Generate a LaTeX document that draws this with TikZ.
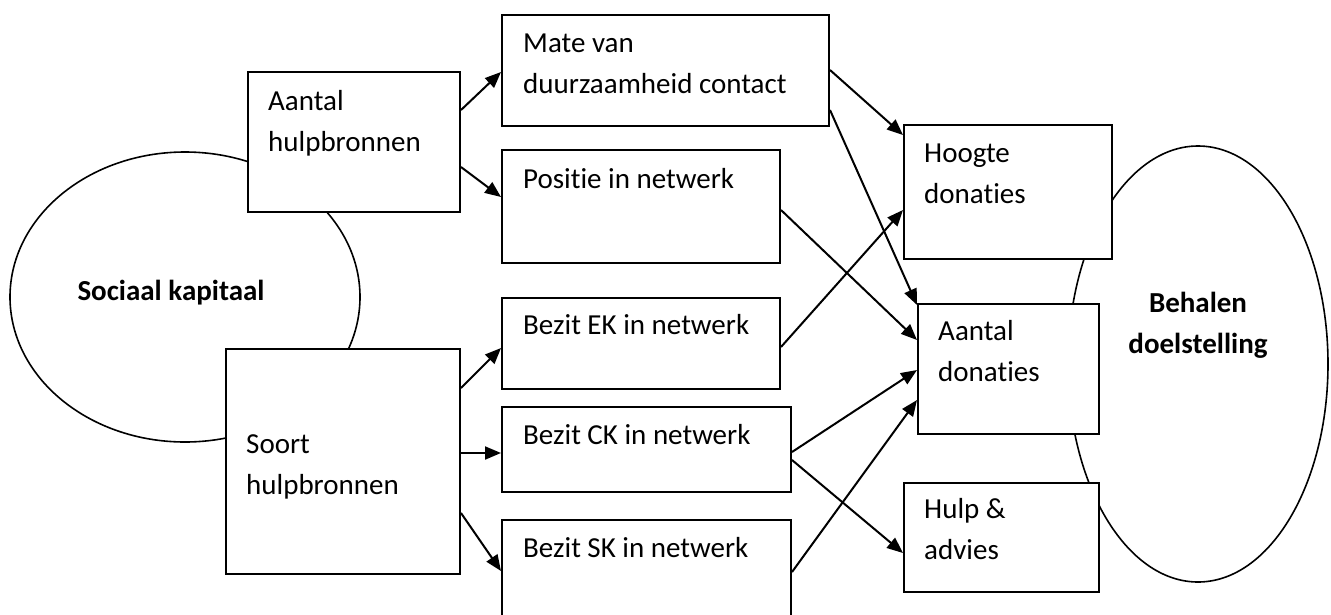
\documentclass[tikz,border=0pt]{standalone}
\usepackage{fontspec}
\setmainfont{Carlito}[Ligatures=NoCommon]
\usetikzlibrary{arrows.meta,calc,shapes.geometric}
\tikzset{
  boxnode/.style={draw, fill=white, line width=2pt, rectangle, inner sep=0pt, anchor=north west},
  oval/.style={draw, ellipse, line width=1.6pt, inner sep=0pt},
  lbl/.style={anchor=base west, inner sep=0pt, font=\fontsize{29}{41}\selectfont, align=left},
  bold/.style={anchor=base, inner sep=0pt, font=\fontsize{29}{41}\selectfont\bfseries, align=center},
  conn/.style={line width=2pt, -{Triangle[length=16pt,width=13pt]}},
}
\begin{document}
\begin{tikzpicture}[x=1pt,y=-1pt]
\clip (0,0) rectangle (1331,614);
\useasboundingbox (0,0) rectangle (1331,614);
% ellipses
\node[oval, minimum width=350pt, minimum height=290pt] (sk1) at (185,297) {};
\node[oval, minimum width=260pt, minimum height=436pt] (bd) at (1198,364) {};
\node[bold] (sktxt) at (171,300) {Sociaal kapitaal};
\node[bold] (bdtxt) at (1198,353) {Behalen\\doelstelling};
% boxes
\node[boxnode, minimum width=212pt, minimum height=140pt] (ah) at (247,71) {};
\node[boxnode, minimum width=234pt, minimum height=225pt] (sh) at (225,348) {};
\node[boxnode, minimum width=327pt, minimum height=111pt] (mate) at (501,14) {};
\node[boxnode, minimum width=278pt, minimum height=113pt] (pos) at (501,149) {};
\node[boxnode, minimum width=278pt, minimum height=91pt] (ek) at (501,297) {};
\node[boxnode, minimum width=289pt, minimum height=85pt] (ck) at (501,406) {};
\node[boxnode, minimum width=289pt, minimum height=100pt] (skb) at (501,519) {};
\node[boxnode, minimum width=208pt, minimum height=134pt] (hd) at (903,124) {};
\node[boxnode, minimum width=181pt, minimum height=130pt] (ad) at (917,303) {};
\node[boxnode, minimum width=195pt, minimum height=109pt] (hu) at (903,482) {};
% texts (two-line nodes: base anchor is at the last line)
\node[lbl] (t1) at ($(ah.north west)+(21,80)$) {Aantal\\hulpbronnen};
\node[lbl] (t2) at ($(sh.north west)+(21,146)$) {Soort\\hulpbronnen};
\node[lbl] (t3) at ($(mate.north west)+(22,79)$) {Mate van\\duurzaamheid contact};
\node[lbl] (t4) at ($(pos.north west)+(22,39)$) {Positie in netwerk};
\node[lbl] (t5) at ($(ek.north west)+(22,37)$) {Bezit EK in netwerk};
\node[lbl] (t6) at ($(ck.north west)+(22,38)$) {Bezit CK in netwerk};
\node[lbl] (t7) at ($(skb.north west)+(22,38)$) {Bezit SK in netwerk};
\node[lbl] (t8) at ($(hd.north west)+(21,79)$) {Hoogte\\donaties};
\node[lbl] (t9) at ($(ad.north west)+(21,78)$) {Aantal\\donaties};
\node[lbl] (t10) at ($(hu.north west)+(21,77)$) {Hulp \&\\advies};
% connectors
\draw[conn] ($(ah.north east)+(0,39)$) -- ($(mate.north west)+(0,58)$);
\draw[conn] ($(ah.north east)+(0,96)$) -- ($(pos.north west)+(0,48)$);
\draw[conn] ($(sh.north east)+(0,40)$) -- ($(ek.north west)+(0,51)$);
\draw[conn] ($(sh.north east)+(0,105)$) -- ($(ck.north west)+(0,47)$);
\draw[conn] ($(sh.north east)+(0,165)$) -- ($(skb.north west)+(0,52)$);
\draw[conn] ($(mate.north east)+(0,56)$) -- ($(hd.north west)+(0,11)$);
\draw[conn] ($(mate.north east)+(0,96)$) -- ($(ad.north west)+(0,2)$);
\draw[conn] ($(pos.north east)+(0,61)$) -- ($(ad.north west)+(0,37)$);
\draw[conn] ($(ek.north east)+(0,50)$) -- ($(hd.north west)+(0,86)$);
\draw[conn] ($(ck.north east)+(0,46)$) -- ($(ad.north west)+(0,67)$);
\draw[conn] ($(ck.north east)+(0,54)$) -- ($(hu.north west)+(0,71)$);
\draw[conn] ($(skb.north east)+(0,53)$) -- ($(ad.north west)+(0,97)$);
\end{tikzpicture}
\end{document}
